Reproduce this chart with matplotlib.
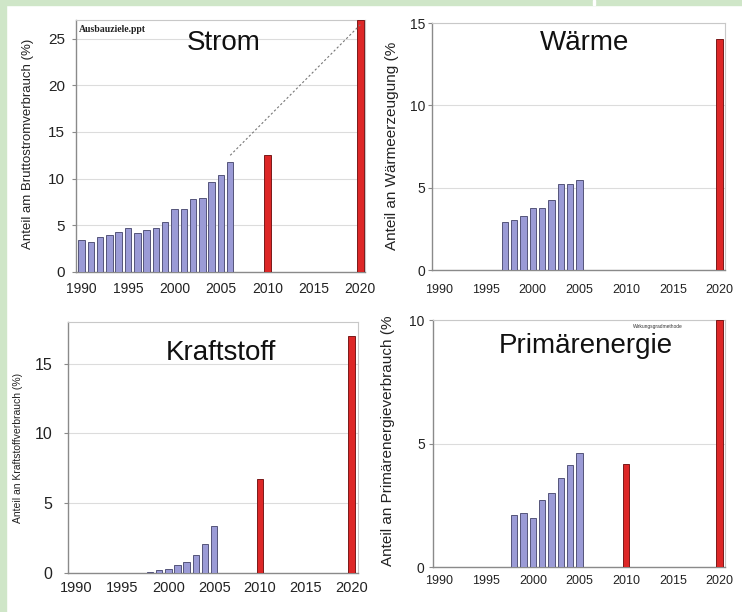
import matplotlib.pyplot as plt
from matplotlib.patches import Rectangle

plt.rcParams['font.family'] = ['Liberation Sans', 'DejaVu Sans']

# Strom
strom_years = [1990, 1991, 1992, 1993, 1994, 1995, 1996, 1997, 1998, 1999,
               2000, 2001, 2002, 2003, 2004, 2005, 2006]
strom_vals = [3.4, 3.2, 3.8, 4.0, 4.3, 4.7, 4.2, 4.5, 4.7, 5.4,
              6.7, 6.7, 7.8, 7.9, 9.6, 10.4, 11.8]
strom_goal_years = [2010, 2020]
strom_goal_vals = [12.5, 27]
strom_trend_x = [2006, 2020]
strom_trend_y = [12.5, 26.5]

# Waerme
waerme_years = [1997, 1998, 1999, 2000, 2001, 2002, 2003, 2004, 2005]
waerme_vals = [2.9, 3.05, 3.25, 3.75, 3.75, 4.25, 5.2, 5.2, 5.45]
waerme_goal_years = [2020]
waerme_goal_vals = [14]

# Kraftstoff
kraft_years = [1998, 1999, 2000, 2001, 2002, 2003, 2004, 2005]
kraft_vals = [0.1, 0.2, 0.3, 0.55, 0.8, 1.3, 2.1, 3.4]
kraft_goal_years = [2010, 2020]
kraft_goal_vals = [6.75, 17]

# Primaerenergie
prim_years = [1998, 1999, 2000, 2001, 2002, 2003, 2004, 2005]
prim_vals = [2.12, 2.2, 2.0, 2.72, 3.0, 3.6, 4.12, 4.6]
prim_goal_years = [2010, 2020]
prim_goal_vals = [4.18, 10]

xticks = [1990, 1995, 2000, 2005, 2010, 2015, 2020]

blue = '#9b9bd6'
red = '#dd2727'

fig = plt.figure(figsize=(7.42, 6.12), dpi=100)
fig.patch.set_facecolor('white')

# light green frame strips of the slide
fig.patches.append(Rectangle((0, 0), 6 / 742, 1, transform=fig.transFigure,
                             color='#cfe6c8', zorder=0))
fig.patches.append(Rectangle((0, 1 - 5 / 612), 1, 5 / 612, transform=fig.transFigure,
                             color='#cfe6c8', zorder=0))
fig.patches.append(Rectangle((593 / 742, 1 - 5 / 612), 1.5 / 742, 5 / 612,
                             transform=fig.transFigure, color='white', zorder=1))


def panel(rect, years, vals, gyears, gvals, ymax, yticks, xlim,
          title, tpos, tick_size, xpad, ypad):
    ax = fig.add_axes(rect)
    ax.bar(years, vals, width=0.7, color=blue, edgecolor='#55557a', lw=0.7, zorder=3)
    ax.bar(gyears, gvals, width=0.7, color=red, edgecolor='#7a1a1a', lw=0.7, zorder=3)
    ax.set_xlim(*xlim)
    ax.set_ylim(0, ymax)
    ax.set_xticks(xticks)
    ax.set_yticks(yticks)
    ax.grid(axis='y', color='#dcdcdc', lw=0.8, zorder=0)
    ax.set_axisbelow(True)
    for s in ['top', 'right']:
        ax.spines[s].set_color('#c8c8c8')
    for s in ['left', 'bottom']:
        ax.spines[s].set_color('#8a8a8a')
        ax.spines[s].set_linewidth(1.0)
    ax.tick_params(axis='x', length=0, pad=xpad, labelsize=tick_size, colors='#222222')
    ax.tick_params(axis='y', length=3, pad=ypad, labelsize=tick_size + 1,
                   colors='#222222', color='#8a8a8a')
    ax.text(tpos[0], tpos[1], title, transform=ax.transAxes, fontsize=20,
            ha='center', va='center', color='#111111', zorder=4)
    return ax


ax1 = panel([0.1024, 0.5556, 0.3895, 0.4117], strom_years, strom_vals,
            strom_goal_years, strom_goal_vals, 27, [0, 5, 10, 15, 20, 25],
            (1989.4, 2020.5), 'Strom', (0.512, 0.909), 10, 7, 5)
ax1.plot(strom_trend_x, strom_trend_y, ls=(0, (2, 2)), color='#777777', lw=0.8, zorder=4)
ax1.text(0.01, 0.964, 'Ausbauziele.ppt', transform=ax1.transAxes, fontsize=7,
         family='Liberation Serif', weight='bold', va='center', color='#222222')

ax2 = panel([0.5822, 0.5588, 0.3949, 0.4036], waerme_years, waerme_vals,
            waerme_goal_years, waerme_goal_vals, 15, [0, 5, 10, 15],
            (1989.2, 2020.6), 'Wärme', (0.519, 0.919), 9, 10, 2)

ax3 = panel([0.0916, 0.0637, 0.3909, 0.4106], kraft_years, kraft_vals,
            kraft_goal_years, kraft_goal_vals, 18, [0, 5, 10, 15],
            (1989.05, 2020.7), 'Kraftstoff', (0.528, 0.875), 10.5, 6, 8)

ax4 = panel([0.5836, 0.0735, 0.3935, 0.4036], prim_years, prim_vals,
            prim_goal_years, prim_goal_vals, 10, [0, 5, 10],
            (1989.3, 2020.6), 'Primärenergie', (0.522, 0.895), 9, 6, 3)
ax4.text(0.685, 0.972, 'Wirkungsgradmethode', transform=ax4.transAxes, fontsize=3.5,
         va='center', color='#333333', zorder=4)

# y axis labels
fig.text(28 / 742, 1 - 144 / 612, 'Anteil am Bruttostromverbrauch (%)', rotation=90,
         ha='center', va='center', fontsize=9.5, color='#222222')
fig.text(392 / 742, 1 - 146 / 612, 'Anteil an Wärmeerzeugung (%', rotation=90,
         ha='center', va='center', fontsize=11, color='#222222')
fig.text(18 / 742, 1 - 448 / 612, 'Anteil an Kraftstoffverbrauch (%)', rotation=90,
         ha='center', va='center', fontsize=7.5, color='#222222')
fig.text(388 / 742, 1 - 441 / 612, 'Anteil an Primärenergieverbrauch (%', rotation=90,
         ha='center', va='center', fontsize=11, color='#222222')

fig.savefig('out.png', dpi=100)
